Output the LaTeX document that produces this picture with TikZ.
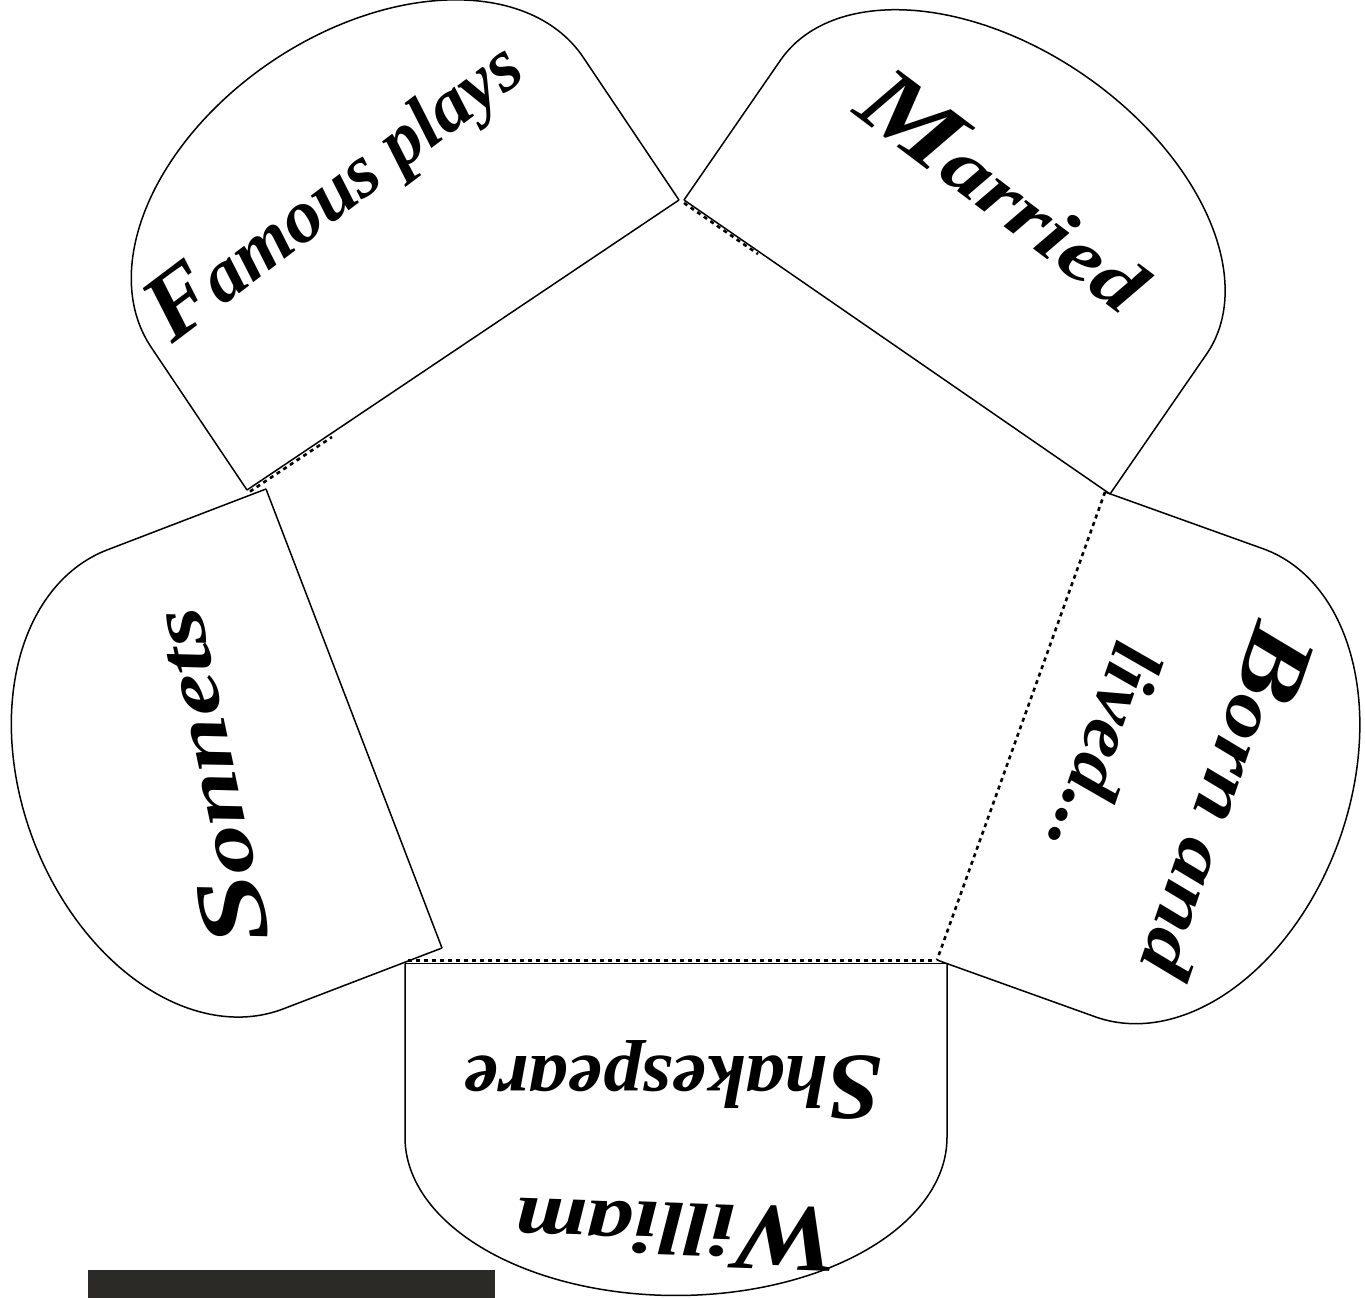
\documentclass[tikz,border=0pt]{standalone}
\usepackage{fontspec}
\usepackage{graphicx}
\newfontfamily\scriptface{Liberation Serif}
\usetikzlibrary{calc}
\definecolor{scanbar}{RGB}{44,42,38}
\newcommand\BigCap[1]{{\fontsize{95}{95}\selectfont #1}}
% flap: base corner 1 (x,y), base corner 2 (x,y), side length, cap depth, name
\newcommand\drawflap[7]{%
  \pgfmathsetmacro\FLdx{#3-#1}%
  \pgfmathsetmacro\FLdy{#4-#2}%
  \pgfmathsetmacro\FLw{veclen(\FLdx,\FLdy)}%
  \pgfmathsetmacro\FLex{\FLdx/\FLw}%
  \pgfmathsetmacro\FLey{\FLdy/\FLw}%
  \pgfmathsetmacro\FLnx{\FLey}%
  \pgfmathsetmacro\FLny{-1*(\FLex)}%
  \pgfmathsetmacro\FLa{\FLw/2}%
  \pgfmathsetmacro\FLcx{(#1+#3)/2+#5*(\FLnx)}%
  \pgfmathsetmacro\FLcy{(#2+#4)/2+#5*(\FLny)}%
  \coordinate (#7-p1) at (#1,#2);
  \coordinate (#7-p2) at (#3,#4);
  \coordinate (#7-s1) at ({#1+#5*(\FLnx)},{#2+#5*(\FLny)});
  \coordinate (#7-s2) at ({#3+#5*(\FLnx)},{#4+#5*(\FLny)});
  \draw[flapline] (#7-p1) -- (#7-s1) -- plot[domain=0:180,samples=120,variable=\t]
    ({\FLcx-\FLa*cos(\t)*(\FLex)+#6*sin(\t)*(\FLnx)},{\FLcy-\FLa*cos(\t)*(\FLey)+#6*sin(\t)*(\FLny)})
    -- (#7-p2);
}
\begin{document}
\begin{tikzpicture}[x=1pt,y=-1pt,
  flapline/.style={line width=1.5pt, line join=round},
  foldline/.style={line width=2.6pt, dash pattern=on 4pt off 4pt},
  lbl/.style={font={\scriptface\bfseries\itshape\fontsize{75}{80}\selectfont}, inner sep=0pt, text=black}]
\useasboundingbox (0,0) rectangle (1365,1298);
\fill[white] (0,0) rectangle (1365,1298);

% flaps
\drawflap{247}{490}{679}{200}{172}{170}{fam}
\drawflap{684}{200}{1110}{494}{170}{160}{mar}
\drawflap{1105}{492}{937}{960}{168}{170}{born}
\drawflap{947}{963.5}{405}{963.5}{174}{158}{will}
\drawflap{442}{948}{266}{489}{170}{173}{son}

% pentagon edges (bases of the flaps)
\draw[flapline] (fam-p1) -- (fam-p2);
\draw[flapline] (mar-p1) -- (mar-p2);
\draw[flapline] (will-p1) -- (will-p2);
\draw[flapline] (son-p1) -- (son-p2);
\draw[foldline] (born-p1) -- (born-p2);

% fold marks
\coordinate (famfoldA) at (250,491.5);
\coordinate (famfoldB) at (332,437);
\draw[foldline] (famfoldA) -- (famfoldB);
\coordinate (marfoldA) at (684,203);
\coordinate (marfoldB) at (758,254);
\draw[foldline] (marfoldA) -- (marfoldB);
\coordinate (willfoldA) at (408,960.5);
\coordinate (willfoldB) at (936,960.5);
\draw[foldline] (willfoldA) -- (willfoldB);

% scan bar
\fill[scanbar] (88,1270) rectangle (495,1298);

% labels
\node[lbl, rotate=37] (famous) at (336,192) {\BigCap{F}amous plays};
\node[lbl, rotate=-37] (married) at (1006,190) {\scalebox{1.25}[1]{\BigCap{M}arried}};
\node[lbl, rotate=102] (sonnets) at (205,778) {\scalebox{1.33}[1]{\BigCap{S}onnets}};
\node[lbl, rotate=-109] (bornand) at (1228,803) {\scalebox{1.2}[1]{\BigCap{B}orn and}};
\node[lbl, rotate=-109] (lived) at (1106,750) {\scalebox{1.08}[1]{lived...}};
\node[lbl, rotate=180] (shakespeare) at (673,1080) {\scalebox{1.04}[1]{\BigCap{S}hakespeare}};
\node[lbl, rotate=178] (william) at (677,1234) {\scalebox{1.23}[1]{\BigCap{W}illiam}};
\end{tikzpicture}
\end{document}
